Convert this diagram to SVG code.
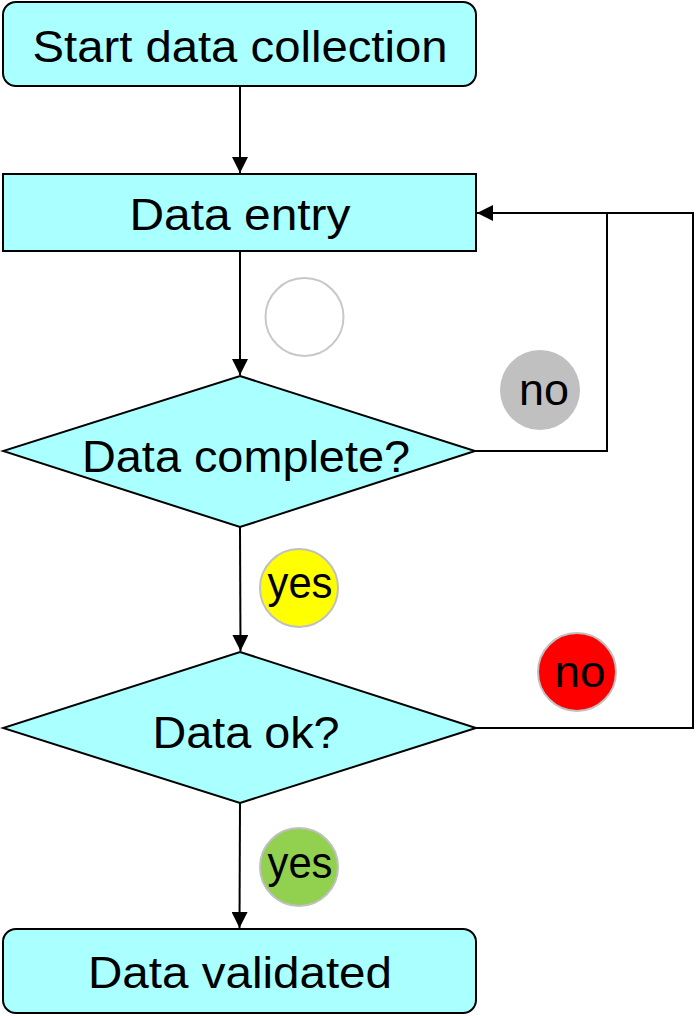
<svg xmlns="http://www.w3.org/2000/svg" width="697" height="1016" viewBox="0 0 697 1016">
  <style>
    .box { fill: #aaffff; stroke: #000; stroke-width: 2; }
    .lbl { font-family: "Liberation Sans", Arial, sans-serif; font-size: 44px; fill: #000; text-anchor: middle; }
    .wire { fill: none; stroke: #000; stroke-width: 2; }
    .badge { stroke: #c0c0c0; stroke-width: 2; }
  </style>
  <defs>
    <marker id="arrow" markerUnits="userSpaceOnUse" markerWidth="18" markerHeight="16" refX="16" refY="8" orient="auto">
      <path d="M0,0 L16,8 L0,16 Z" fill="#000"/>
    </marker>
  </defs>

  <!-- connectors -->
  <g id="connectors">
    <line class="wire" x1="240" y1="86" x2="240" y2="173" marker-end="url(#arrow)"/>
    <line class="wire" x1="240" y1="251" x2="240" y2="375" marker-end="url(#arrow)"/>
    <line class="wire" x1="240" y1="527" x2="240.5" y2="651" marker-end="url(#arrow)"/>
    <line class="wire" x1="240" y1="803" x2="239.5" y2="928" marker-end="url(#arrow)"/>
    <polyline class="wire" points="475,451 607,451 607,213 477,213" marker-end="url(#arrow)"/>
    <polyline class="wire" points="476,728 693,728 693,213 607,213"/>
  </g>

  <!-- nodes -->
  <g id="start">
    <rect class="box" x="3" y="2" width="473" height="84" rx="13"/>
    <text class="lbl" x="240" y="62" textLength="415" lengthAdjust="spacingAndGlyphs">Start data collection</text>
  </g>
  <g id="entry">
    <rect class="box" x="3" y="174" width="473" height="77"/>
    <text class="lbl" x="240" y="230" textLength="221" lengthAdjust="spacingAndGlyphs">Data entry</text>
  </g>
  <g id="complete">
    <polygon class="box" points="240,376 475,451 240,527 3,451"/>
    <text class="lbl" x="246" y="472" textLength="328" lengthAdjust="spacingAndGlyphs">Data complete?</text>
  </g>
  <g id="ok">
    <polygon class="box" points="240,652 476,728 240,803 3,728"/>
    <text class="lbl" x="246" y="748" textLength="187" lengthAdjust="spacingAndGlyphs">Data ok?</text>
  </g>
  <g id="validated">
    <rect class="box" x="3" y="929" width="473" height="84" rx="13"/>
    <text class="lbl" x="240" y="988" textLength="304" lengthAdjust="spacingAndGlyphs">Data validated</text>
  </g>

  <!-- branch badges -->
  <g id="badge-empty">
    <circle cx="304.5" cy="317" r="39" fill="none" stroke="#c8c8c8" stroke-width="2"/>
  </g>
  <g id="badge-no-gray">
    <circle cx="540" cy="390" r="40" fill="#c0c0c0"/>
    <text class="lbl" x="544" y="405" textLength="50" lengthAdjust="spacingAndGlyphs">no</text>
  </g>
  <g id="badge-yes-yellow">
    <circle class="badge" cx="299" cy="588" r="39" fill="#ffff00"/>
    <text class="lbl" x="300" y="598" textLength="65" lengthAdjust="spacingAndGlyphs">yes</text>
  </g>
  <g id="badge-no-red">
    <circle class="badge" cx="577" cy="672" r="39" fill="#ff0000"/>
    <text class="lbl" x="580" y="687" textLength="51" lengthAdjust="spacingAndGlyphs">no</text>
  </g>
  <g id="badge-yes-green">
    <circle class="badge" cx="299" cy="867" r="39" fill="#92d050"/>
    <text class="lbl" x="300" y="878" textLength="65" lengthAdjust="spacingAndGlyphs">yes</text>
  </g>
</svg>
